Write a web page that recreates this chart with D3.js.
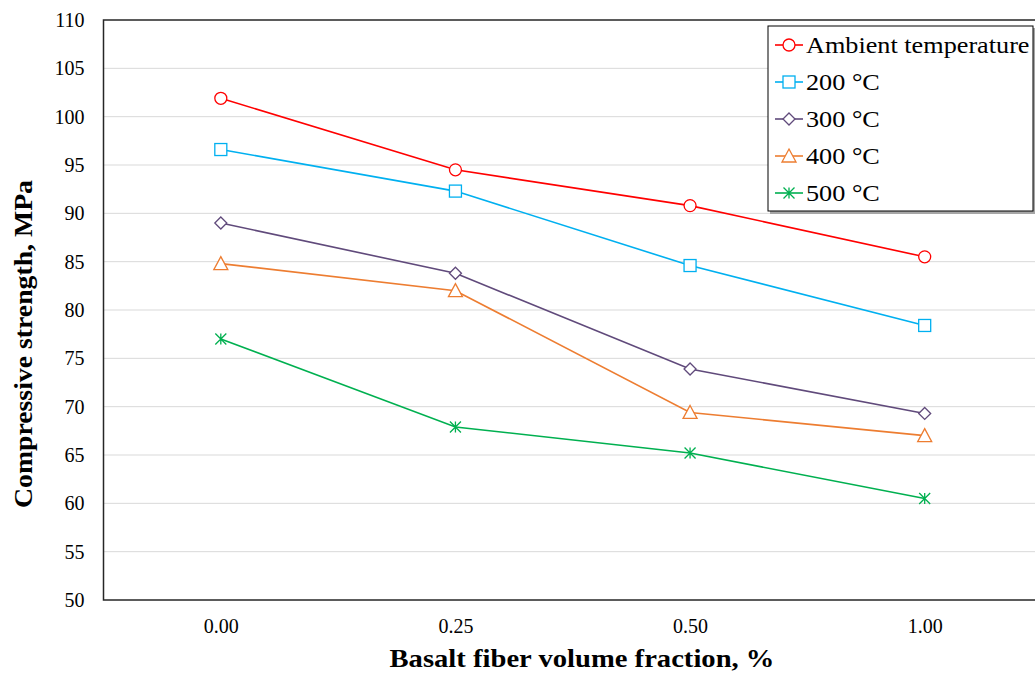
<!doctype html>
<html lang="en">

<head>
    <title>Compressive strength vs basalt fiber</title>
    <meta charset="utf-8" />
    <script src="https://d3js.org/d3.v7.min.js"></script>
    <style>
        body {
            margin: 0;
            padding: 0;
            background: white;
        }

        svg text {
            font-family: 'Liberation Serif', 'DejaVu Serif', serif;
            fill: #000;
        }
    </style>
</head>

<body>
    <script>
        // categories on x axis (fiber volume fraction)
        const categories = ['0.00', '0.25', '0.50', '1.00'];

        // one array per temperature
        const ambient = [101.9, 94.5, 90.8, 85.5];
        const t200 = [96.6, 92.3, 84.6, 78.4];
        const t300 = [89.0, 83.8, 73.9, 69.3];
        const t400 = [84.8, 82.0, 69.4, 67.0];
        const t500 = [77.0, 67.9, 65.2, 60.5];

        const seriesNames = ['Ambient temperature', '200 °C', '300 °C', '400 °C', '500 °C'];
        const yTicks = [50, 55, 60, 65, 70, 75, 80, 85, 90, 95, 100, 105, 110];

        const series = [
            { name: seriesNames[0], values: ambient, color: '#ff0000', marker: 'circle' },
            { name: seriesNames[1], values: t200, color: '#00b0f0', marker: 'square' },
            { name: seriesNames[2], values: t300, color: '#604a7b', marker: 'diamond' },
            { name: seriesNames[3], values: t400, color: '#ed7d31', marker: 'triangle' },
            { name: seriesNames[4], values: t500, color: '#00b050', marker: 'star' }
        ];

        const width = 1035, height = 673;
        const plot = { left: 103.5, right: 1042, top: 20, bottom: 600 };

        const svg = d3.select('body').append('svg')
            .attr('width', width)
            .attr('height', height);

        const x = d3.scalePoint()
            .domain(categories)
            .range([plot.left, plot.right])
            .padding(0.5);

        const y = d3.scaleLinear()
            .domain([50, 110])
            .range([plot.bottom, plot.top]);

        // Liberation Serif is narrower than the Palatino of the original, so stretch a bit
        function widen(sel, factor) {
            sel.each(function () {
                const len = this.getComputedTextLength();
                d3.select(this)
                    .attr('textLength', len * factor)
                    .attr('lengthAdjust', 'spacingAndGlyphs');
            });
        }

        // horizontal grid
        svg.append('g')
            .selectAll('line')
            .data(yTicks.slice(1, -1))
            .join('line')
            .attr('x1', plot.left).attr('x2', plot.right)
            .attr('y1', d => y(d)).attr('y2', d => y(d))
            .attr('stroke', '#d9d9d9')
            .attr('stroke-width', 1);

        // plot border (right side falls outside the picture)
        svg.append('rect')
            .attr('x', plot.left).attr('y', plot.top)
            .attr('width', plot.right - plot.left)
            .attr('height', plot.bottom - plot.top)
            .attr('fill', 'none')
            .attr('stroke', '#262626')
            .attr('stroke-width', 1.5);

        // y axis
        const yAxis = svg.append('g')
            .attr('transform', `translate(${plot.left},0)`)
            .call(d3.axisLeft(y).tickValues(yTicks).tickSize(0).tickPadding(19))
            .attr('font-size', 20)
            .attr('font-family', "'Liberation Serif', serif");
        yAxis.select('.domain').remove();
        yAxis.selectAll('text').style('font-size', '20px');

        // x axis
        const xAxis = svg.append('g')
            .attr('transform', `translate(0,${plot.bottom})`)
            .call(d3.axisBottom(x).tickSize(0).tickPadding(19))
            .attr('font-size', 20)
            .attr('font-family', "'Liberation Serif', serif");
        xAxis.select('.domain').remove();
        xAxis.selectAll('text').style('font-size', '20px');

        // axis titles
        svg.append('text')
            .attr('x', 582).attr('y', 667)
            .attr('text-anchor', 'middle')
            .style('font-size', '25px')
            .style('font-weight', 'bold')
            .attr('textLength', 385)
            .attr('lengthAdjust', 'spacingAndGlyphs')
            .text('Basalt fiber volume fraction, %');

        svg.append('text')
            .attr('transform', 'translate(32,344) rotate(-90)')
            .attr('text-anchor', 'middle')
            .style('font-size', '26px')
            .style('font-weight', 'bold')
            .attr('textLength', 328)
            .attr('lengthAdjust', 'spacingAndGlyphs')
            .text('Compressive strength, MPa');

        // marker drawing
        function drawMarker(g, type, color) {
            const s = 6;
            if (type === 'circle') {
                g.append('circle').attr('r', s).attr('fill', 'white').attr('stroke', color).attr('stroke-width', 1.3);
            } else if (type === 'square') {
                g.append('rect').attr('x', -s).attr('y', -s).attr('width', 2 * s).attr('height', 2 * s)
                    .attr('fill', 'white').attr('stroke', color).attr('stroke-width', 1.3);
            } else if (type === 'diamond') {
                g.append('path').attr('d', `M0,${-s}L${s},0L0,${s}L${-s},0Z`)
                    .attr('fill', 'white').attr('stroke', color).attr('stroke-width', 1.3);
            } else if (type === 'triangle') {
                g.append('path').attr('d', `M0,${-s - 1}L${s + 1},${s}L${-s - 1},${s}Z`)
                    .attr('fill', 'white').attr('stroke', color).attr('stroke-width', 1.3);
            } else if (type === 'star') {
                const r = 5.5;
                g.append('path')
                    .attr('d', `M0,${-r}L0,${r}M${-r},${-r}L${r},${r}M${-r},${r}L${r},${-r}`)
                    .attr('stroke', color).attr('stroke-width', 1.3).attr('fill', 'none');
            }
        }

        const line = d3.line()
            .x((d, i) => x(categories[i]))
            .y(d => y(d));

        series.forEach(s => {
            svg.append('path')
                .datum(s.values)
                .attr('d', line)
                .attr('fill', 'none')
                .attr('stroke', s.color)
                .attr('stroke-width', 1.6);

            s.values.forEach((v, i) => {
                const g = svg.append('g')
                    .attr('transform', `translate(${x(categories[i])},${y(v)})`);
                drawMarker(g, s.marker, s.color);
            });
        });

        // legend
        const legend = svg.append('g');
        legend.append('rect')
            .attr('x', 770).attr('y', 28).attr('width', 266).attr('height', 186)
            .attr('fill', '#a6a6a6');
        legend.append('rect')
            .attr('x', 768).attr('y', 26).attr('width', 265).attr('height', 185)
            .attr('fill', 'white')
            .attr('stroke', '#000')
            .attr('stroke-width', 1);

        series.forEach((s, i) => {
            const ly = 45 + i * 37;
            legend.append('line')
                .attr('x1', 775).attr('x2', 803)
                .attr('y1', ly).attr('y2', ly)
                .attr('stroke', s.color).attr('stroke-width', 1.6);
            const g = legend.append('g').attr('transform', `translate(789,${ly})`);
            drawMarker(g, s.marker, s.color);
            legend.append('text')
                .attr('class', 'legend-label')
                .attr('x', 806).attr('y', ly)
                .attr('dy', '0.35em')
                .style('font-size', '23px')
                .text(s.name);
        });
        widen(legend.selectAll('.legend-label'), 1.14);
    </script>
</body>

</html>
